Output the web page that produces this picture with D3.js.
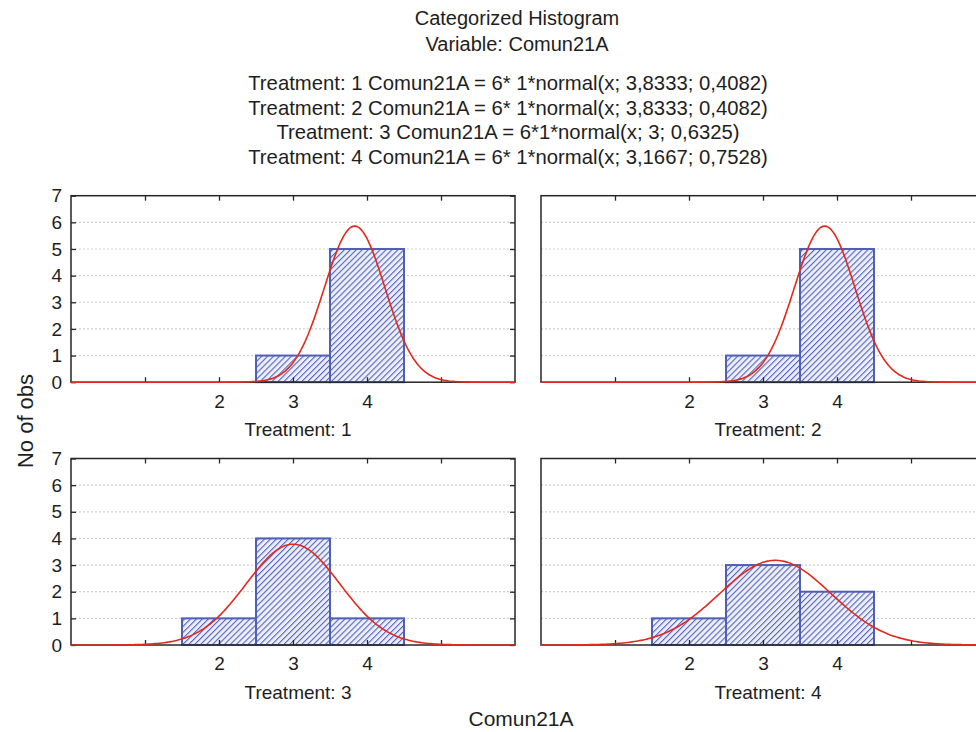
<!DOCTYPE html>
<html>
<head>
<meta charset="utf-8">
<script src="https://cdn.jsdelivr.net/npm/d3@7"></script>
<style>
  body { margin: 0; background: #fff; }
  svg { display: block; font-family: "Liberation Sans", Arial, sans-serif; }
  text { fill: #1e1e1e; }
</style>
</head>
<body>
<div id="chart"></div>
<script>
// histogram counts per treatment, bins centred on 2, 3 and 4
const treatments = ["1", "2", "3", "4"];
const binCenters = [2, 3, 4];
const counts = [
    [0, 1, 5],
    [0, 1, 5],
    [1, 4, 1],
    [1, 3, 2]
];
// fitted normal parameters (from the header text)
const nObs = 6;
const binWidth = 1;
const means = [3.8333, 3.8333, 3, 3.1667];
const sds = [0.4082, 0.4082, 0.6325, 0.7528];

const titleLines = ["Categorized Histogram", "Variable: Comun21A"];
const fitLines = [
    "Treatment: 1 Comun21A = 6* 1*normal(x; 3,8333; 0,4082)",
    "Treatment: 2 Comun21A = 6* 1*normal(x; 3,8333; 0,4082)",
    "Treatment: 3 Comun21A = 6*1*normal(x; 3; 0,6325)",
    "Treatment: 4 Comun21A = 6* 1*normal(x; 3,1667; 0,7528)"
];
const xTicks = [1, 2, 3, 4, 5];
const xTickLabels = [2, 3, 4];
const yTicks = [0, 1, 2, 3, 4, 5, 6, 7];
const gridValues = [1, 2, 3, 4, 5, 6];

const W = 976, H = 732;
const panelW = 444, panelH = 186.5;
const panelPos = [
    {x: 71, y: 195.7},
    {x: 541, y: 195.7},
    {x: 71, y: 458.5},
    {x: 541, y: 458.5}
];

const svg = d3.select("#chart").append("svg")
    .attr("width", W)
    .attr("height", H);

// hatch pattern for the bars
const defs = svg.append("defs");
const pat = defs.append("pattern")
    .attr("id", "hatch")
    .attr("patternUnits", "userSpaceOnUse")
    .attr("width", 4.2)
    .attr("height", 4.2)
    .attr("patternTransform", "rotate(45)");
pat.append("rect").attr("width", 4.2).attr("height", 4.2).attr("fill", "#eceefa");
pat.append("line")
    .attr("x1", 0).attr("y1", 0).attr("x2", 0).attr("y2", 4.2)
    .attr("stroke", "#5565b8").attr("stroke-width", 2.2);

// titles
svg.selectAll(".title")
    .data(titleLines)
    .join("text")
    .attr("class", "title")
    .attr("x", 517)
    .attr("y", 25)
    .attr("dy", (d, i) => i * 26)
    .attr("text-anchor", "middle")
    .style("font-size", "20px")
    .text(d => d);

svg.selectAll(".fit")
    .data(fitLines)
    .join("text")
    .attr("class", "fit")
    .attr("x", 508)
    .attr("y", 90)
    .attr("dy", (d, i) => i * 24.5)
    .attr("text-anchor", "middle")
    .style("font-size", "20.3px")
    .text(d => d);

const x = d3.scaleLinear().domain([0, 6]).range([0, panelW]);
const y = d3.scaleLinear().domain([0, 7]).range([panelH, 0]);

function normal(v, mu, sd) {
    return Math.exp(-0.5 * Math.pow((v - mu) / sd, 2)) / (sd * Math.sqrt(2 * Math.PI));
}

const line = d3.line()
    .x(d => x(d[0]))
    .y(d => y(d[1]))
    .curve(d3.curveBasis);

treatments.forEach((t, i) => {
    const p = panelPos[i];
    const g = svg.append("g").attr("transform", `translate(${p.x},${p.y})`);

    // dotted grid
    g.selectAll(".grid")
        .data(gridValues)
        .join("line")
        .attr("x1", 0).attr("x2", panelW)
        .attr("y1", d => y(d)).attr("y2", d => y(d))
        .attr("stroke", "#cfcfcf")
        .attr("stroke-width", 1.2)
        .attr("stroke-dasharray", "2,2");

    // bars
    const bars = binCenters.map((c, j) => ({x0: c - binWidth / 2, x1: c + binWidth / 2, n: counts[i][j]}));
    g.selectAll(".bar")
        .data(bars)
        .join("rect")
        .attr("x", d => x(d.x0))
        .attr("y", d => y(d.n))
        .attr("width", d => x(d.x1) - x(d.x0))
        .attr("height", d => y(0) - y(d.n))
        .attr("fill", "url(#hatch)")
        .attr("stroke", "#4f5fb6")
        .attr("stroke-width", 2);

    // frame and inward ticks
    g.append("rect")
        .attr("width", panelW).attr("height", panelH)
        .attr("fill", "none")
        .attr("stroke", "#262626")
        .attr("stroke-width", 1.5);

    const axB = g.append("g")
        .attr("transform", `translate(0,${panelH})`)
        .call(d3.axisBottom(x).tickValues(xTicks).tickSize(-5).tickPadding(12)
            .tickFormat(d => xTickLabels.includes(d) ? d : ""));
    const axT = g.append("g")
        .call(d3.axisTop(x).tickValues(xTicks).tickSize(-5).tickFormat(""));
    const axR = g.append("g")
        .attr("transform", `translate(${panelW},0)`)
        .call(d3.axisRight(y).tickValues(yTicks).tickSize(-5).tickFormat(""));
    const axes = [axB, axT, axR];
    if (i % 2 == 0) {
        axes.push(g.append("g")
            .call(d3.axisLeft(y).tickValues(yTicks).tickSize(-5).tickPadding(9).tickFormat(d3.format("d"))));
    }
    axes.forEach(a => {
        a.attr("font-size", 19).attr("font-family", null);
        a.select(".domain").remove();
        a.selectAll("line").attr("stroke", "#262626").attr("stroke-width", 1.3);
        a.selectAll("text").style("font-size", "19px").attr("fill", "#1e1e1e");
    });

    // fitted normal curve
    const pts = d3.range(0, 6.0001, 0.03).map(v => [v, nObs * binWidth * normal(v, means[i], sds[i])]);
    g.append("path")
        .datum(pts)
        .attr("d", line)
        .attr("fill", "none")
        .attr("stroke", "#e02a1e")
        .attr("stroke-width", 1.6);

    // panel label
    g.append("text")
        .attr("x", panelW / 2 + 5)
        .attr("y", panelH + 54)
        .attr("text-anchor", "middle")
        .style("font-size", "19px")
        .text("Treatment: " + t);
});

// axis titles
svg.append("text")
    .attr("transform", "translate(33,421) rotate(-90)")
    .attr("text-anchor", "middle")
    .style("font-size", "22px")
    .text("No of obs");

svg.append("text")
    .attr("x", 521)
    .attr("y", 726)
    .attr("text-anchor", "middle")
    .style("font-size", "21px")
    .text("Comun21A");
</script>
</body>
</html>
